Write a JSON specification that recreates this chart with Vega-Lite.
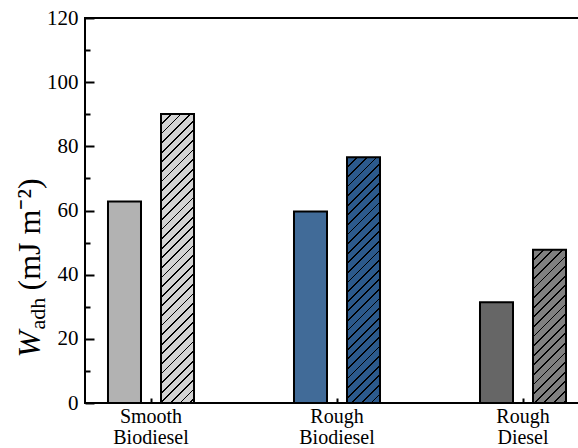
{
  "$schema": "https://vega.github.io/schema/vega-lite/v6.json",
  "width": 504,
  "height": 385,
  "autosize": {"type": "none"},
  "padding": {"left": 85, "top": 18, "right": 0, "bottom": 45},
  "background": "white",
  "config": {
    "view": {"stroke": "black", "strokeWidth": 2},
    "font": "Times New Roman, Times, Liberation Serif, serif",
    "axis": {"labelFont": "Times New Roman, Times, Liberation Serif, serif", "titleFont": "Times New Roman, Times, Liberation Serif, serif"},
    "legend": {"labelFont": "Times New Roman, Times, Liberation Serif, serif"},
    "style": {"guide-label": {"font": "Times New Roman, Times, Liberation Serif, serif"}, "guide-title": {"font": "Times New Roman, Times, Liberation Serif, serif"}}
  },
  "data": {"values": [
    {"group": "Smooth Biodiesel", "method": "Direct Integration", "value": 62.8},
    {"group": "Smooth Biodiesel", "method": "Young-Dupré", "value": 90.1},
    {"group": "Rough Biodiesel", "method": "Direct Integration", "value": 59.7},
    {"group": "Rough Biodiesel", "method": "Young-Dupré", "value": 76.6},
    {"group": "Rough Diesel", "method": "Direct Integration", "value": 31.4},
    {"group": "Rough Diesel", "method": "Young-Dupré", "value": 47.8}
  ]},
  "encoding": {
    "x": {
      "field": "group", "type": "nominal",
      "sort": ["Smooth Biodiesel", "Rough Biodiesel", "Rough Diesel"],
      "scale": {"range": [-27, 531], "paddingInner": 0, "paddingOuter": 0},
      "axis": {"title": null, "domain": false, "labelAngle": 0, "labelExpr": "split(datum.label, ' ')",
        "labelFont": "Times New Roman, Times, Liberation Serif, serif", "labelFontSize": 20, "labelColor": "black", "labelLineHeight": 21.5,
        "offset": -5, "labelPadding": 3, "tickSize": 5, "tickWidth": 2, "tickColor": "black"}
    },
    "xOffset": {"field": "method", "type": "nominal", "sort": ["Direct Integration", "Young-Dupré"],
      "scale": {"domain": ["Direct Integration", "Young-Dupré"], "paddingInner": 0.3774, "paddingOuter": 0.943}}
  },
  "layer": [
    {
      "transform": [{"filter": "datum.method === 'Direct Integration'"}],
      "mark": {"type": "bar", "stroke": "black", "strokeWidth": 2},
      "encoding": {
        "y": {
          "field": "value", "type": "quantitative",
          "scale": {"domain": [0, 120], "nice": false},
          "axis": {"orient": "left", "values": [0, 20, 40, 60, 80, 100, 120], "offset": -9,
            "tickSize": 9, "tickWidth": 2, "tickColor": "black", "domain": false, "grid": false,
            "labelFont": "Times New Roman, Times, Liberation Serif, serif", "labelFontSize": 21, "labelColor": "black", "labelPadding": 7,
            "title": "W", "titleFont": "Times New Roman, Times, Liberation Serif, serif", "titleFontSize": 32, "titleFontStyle": "italic", "titleFontWeight": "normal",
            "titleColor": "black", "titleAngle": -90, "titleAlign": "left", "titleBaseline": "alphabetic", "titleX": -55, "titleY": 339}
        },
        "fill": {
          "field": "group", "type": "nominal",
          "scale": {"domain": ["Smooth Biodiesel", "Rough Biodiesel", "Rough Diesel"], "range": ["#b2b2b2", "#416b98", "#666666"]},
          "legend": null
        },
        "fillOpacity": {
          "field": "method", "type": "nominal",
          "scale": {"domain": ["Direct Integration", "Young-Dupré"], "range": [1, 0.55]},
          "legend": {
            "title": null, "orient": "none", "legendX": 280, "legendY": 11,
            "symbolType": "M-1,-1H5V1H-1Z", "symbolSize": 169,
            "symbolFillColor": "#b2b2b2", "symbolStrokeColor": "black", "symbolStrokeWidth": 2,
            "labelFont": "Times New Roman, Times, Liberation Serif, serif", "labelFontSize": 19, "labelColor": "black", "labelOffset": 42,
            "labelLimit": 300, "padding": 8, "rowPadding": 4,
            "strokeColor": "#333333", "cornerRadius": 4, "fillColor": "white",
            "encode": {
              "symbols": {
                "stroke": {"value": "black"},
                "strokeWidth": {"value": 2}
              }
            }
          }
        }
      }
    },
    {
      "transform": [{"filter": "datum.method === 'Young-Dupré'"}],
      "mark": {"type": "bar", "stroke": "black", "strokeWidth": 2},
      "encoding": {
        "y": {
          "field": "value", "type": "quantitative",
          "axis": {"orient": "left", "values": [10, 30, 50, 70, 90, 110], "labels": false, "offset": -5,
            "tickSize": 5, "tickWidth": 2, "tickColor": "black", "domain": false, "grid": false,
            "title": "adh", "titleFont": "Times New Roman, Times, Liberation Serif, serif", "titleFontSize": 22, "titleFontWeight": "normal",
            "titleColor": "black", "titleAngle": -90, "titleAlign": "left", "titleBaseline": "alphabetic", "titleX": -46, "titleY": 311}
        },
        "fill": {
          "field": "group", "type": "nominal",
          "legend": null,
          "condition": [
            {"test": "datum.group === 'Smooth Biodiesel'", "value": {"gradient": "linear", "x1": 0, "y1": 0, "x2": 0.12724, "y2": 1.11463, "stops": [
              {"offset": 0, "color": "#000"}, {"offset": 0.0055, "color": "#000"}, {"offset": 0.0055, "color": "#d3d3d3"}, {"offset": 0.0294, "color": "#d3d3d3"},
              {"offset": 0.0294, "color": "#000"}, {"offset": 0.0349, "color": "#000"}, {"offset": 0.0349, "color": "#d3d3d3"}, {"offset": 0.0588, "color": "#d3d3d3"},
              {"offset": 0.0588, "color": "#000"}, {"offset": 0.0643, "color": "#000"}, {"offset": 0.0643, "color": "#d3d3d3"}, {"offset": 0.0882, "color": "#d3d3d3"},
              {"offset": 0.0882, "color": "#000"}, {"offset": 0.0937, "color": "#000"}, {"offset": 0.0937, "color": "#d3d3d3"}, {"offset": 0.1176, "color": "#d3d3d3"},
              {"offset": 0.1176, "color": "#000"}, {"offset": 0.1231, "color": "#000"}, {"offset": 0.1231, "color": "#d3d3d3"}, {"offset": 0.1471, "color": "#d3d3d3"},
              {"offset": 0.1471, "color": "#000"}, {"offset": 0.1526, "color": "#000"}, {"offset": 0.1526, "color": "#d3d3d3"}, {"offset": 0.1765, "color": "#d3d3d3"},
              {"offset": 0.1765, "color": "#000"}, {"offset": 0.182, "color": "#000"}, {"offset": 0.182, "color": "#d3d3d3"}, {"offset": 0.2059, "color": "#d3d3d3"},
              {"offset": 0.2059, "color": "#000"}, {"offset": 0.2114, "color": "#000"}, {"offset": 0.2114, "color": "#d3d3d3"}, {"offset": 0.2353, "color": "#d3d3d3"},
              {"offset": 0.2353, "color": "#000"}, {"offset": 0.2408, "color": "#000"}, {"offset": 0.2408, "color": "#d3d3d3"}, {"offset": 0.2647, "color": "#d3d3d3"},
              {"offset": 0.2647, "color": "#000"}, {"offset": 0.2702, "color": "#000"}, {"offset": 0.2702, "color": "#d3d3d3"}, {"offset": 0.2941, "color": "#d3d3d3"},
              {"offset": 0.2941, "color": "#000"}, {"offset": 0.2996, "color": "#000"}, {"offset": 0.2996, "color": "#d3d3d3"}, {"offset": 0.3235, "color": "#d3d3d3"},
              {"offset": 0.3235, "color": "#000"}, {"offset": 0.329, "color": "#000"}, {"offset": 0.329, "color": "#d3d3d3"}, {"offset": 0.3529, "color": "#d3d3d3"},
              {"offset": 0.3529, "color": "#000"}, {"offset": 0.3584, "color": "#000"}, {"offset": 0.3584, "color": "#d3d3d3"}, {"offset": 0.3824, "color": "#d3d3d3"},
              {"offset": 0.3824, "color": "#000"}, {"offset": 0.3879, "color": "#000"}, {"offset": 0.3879, "color": "#d3d3d3"}, {"offset": 0.4118, "color": "#d3d3d3"},
              {"offset": 0.4118, "color": "#000"}, {"offset": 0.4173, "color": "#000"}, {"offset": 0.4173, "color": "#d3d3d3"}, {"offset": 0.4412, "color": "#d3d3d3"},
              {"offset": 0.4412, "color": "#000"}, {"offset": 0.4467, "color": "#000"}, {"offset": 0.4467, "color": "#d3d3d3"}, {"offset": 0.4706, "color": "#d3d3d3"},
              {"offset": 0.4706, "color": "#000"}, {"offset": 0.4761, "color": "#000"}, {"offset": 0.4761, "color": "#d3d3d3"}, {"offset": 0.5, "color": "#d3d3d3"},
              {"offset": 0.5, "color": "#000"}, {"offset": 0.5055, "color": "#000"}, {"offset": 0.5055, "color": "#d3d3d3"}, {"offset": 0.5294, "color": "#d3d3d3"},
              {"offset": 0.5294, "color": "#000"}, {"offset": 0.5349, "color": "#000"}, {"offset": 0.5349, "color": "#d3d3d3"}, {"offset": 0.5588, "color": "#d3d3d3"},
              {"offset": 0.5588, "color": "#000"}, {"offset": 0.5643, "color": "#000"}, {"offset": 0.5643, "color": "#d3d3d3"}, {"offset": 0.5882, "color": "#d3d3d3"},
              {"offset": 0.5882, "color": "#000"}, {"offset": 0.5937, "color": "#000"}, {"offset": 0.5937, "color": "#d3d3d3"}, {"offset": 0.6176, "color": "#d3d3d3"},
              {"offset": 0.6176, "color": "#000"}, {"offset": 0.6231, "color": "#000"}, {"offset": 0.6231, "color": "#d3d3d3"}, {"offset": 0.6471, "color": "#d3d3d3"},
              {"offset": 0.6471, "color": "#000"}, {"offset": 0.6526, "color": "#000"}, {"offset": 0.6526, "color": "#d3d3d3"}, {"offset": 0.6765, "color": "#d3d3d3"},
              {"offset": 0.6765, "color": "#000"}, {"offset": 0.682, "color": "#000"}, {"offset": 0.682, "color": "#d3d3d3"}, {"offset": 0.7059, "color": "#d3d3d3"},
              {"offset": 0.7059, "color": "#000"}, {"offset": 0.7114, "color": "#000"}, {"offset": 0.7114, "color": "#d3d3d3"}, {"offset": 0.7353, "color": "#d3d3d3"},
              {"offset": 0.7353, "color": "#000"}, {"offset": 0.7408, "color": "#000"}, {"offset": 0.7408, "color": "#d3d3d3"}, {"offset": 0.7647, "color": "#d3d3d3"},
              {"offset": 0.7647, "color": "#000"}, {"offset": 0.7702, "color": "#000"}, {"offset": 0.7702, "color": "#d3d3d3"}, {"offset": 0.7941, "color": "#d3d3d3"},
              {"offset": 0.7941, "color": "#000"}, {"offset": 0.7996, "color": "#000"}, {"offset": 0.7996, "color": "#d3d3d3"}, {"offset": 0.8235, "color": "#d3d3d3"},
              {"offset": 0.8235, "color": "#000"}, {"offset": 0.829, "color": "#000"}, {"offset": 0.829, "color": "#d3d3d3"}, {"offset": 0.8529, "color": "#d3d3d3"},
              {"offset": 0.8529, "color": "#000"}, {"offset": 0.8584, "color": "#000"}, {"offset": 0.8584, "color": "#d3d3d3"}, {"offset": 0.8824, "color": "#d3d3d3"},
              {"offset": 0.8824, "color": "#000"}, {"offset": 0.8879, "color": "#000"}, {"offset": 0.8879, "color": "#d3d3d3"}, {"offset": 0.9118, "color": "#d3d3d3"},
              {"offset": 0.9118, "color": "#000"}, {"offset": 0.9173, "color": "#000"}, {"offset": 0.9173, "color": "#d3d3d3"}, {"offset": 0.9412, "color": "#d3d3d3"},
              {"offset": 0.9412, "color": "#000"}, {"offset": 0.9467, "color": "#000"}, {"offset": 0.9467, "color": "#d3d3d3"}, {"offset": 0.9706, "color": "#d3d3d3"},
              {"offset": 0.9706, "color": "#000"}, {"offset": 0.9761, "color": "#000"}, {"offset": 0.9761, "color": "#d3d3d3"}
            ]}},
            {"test": "datum.group === 'Rough Biodiesel'", "value": {"gradient": "linear", "x1": 0, "y1": 0, "x2": 0.17518, "y2": 1.30462, "stops": [
              {"offset": 0, "color": "#000"}, {"offset": 0.0055, "color": "#000"}, {"offset": 0.0055, "color": "#2c5a8c"}, {"offset": 0.0294, "color": "#2c5a8c"},
              {"offset": 0.0294, "color": "#000"}, {"offset": 0.0349, "color": "#000"}, {"offset": 0.0349, "color": "#2c5a8c"}, {"offset": 0.0588, "color": "#2c5a8c"},
              {"offset": 0.0588, "color": "#000"}, {"offset": 0.0643, "color": "#000"}, {"offset": 0.0643, "color": "#2c5a8c"}, {"offset": 0.0882, "color": "#2c5a8c"},
              {"offset": 0.0882, "color": "#000"}, {"offset": 0.0937, "color": "#000"}, {"offset": 0.0937, "color": "#2c5a8c"}, {"offset": 0.1176, "color": "#2c5a8c"},
              {"offset": 0.1176, "color": "#000"}, {"offset": 0.1231, "color": "#000"}, {"offset": 0.1231, "color": "#2c5a8c"}, {"offset": 0.1471, "color": "#2c5a8c"},
              {"offset": 0.1471, "color": "#000"}, {"offset": 0.1526, "color": "#000"}, {"offset": 0.1526, "color": "#2c5a8c"}, {"offset": 0.1765, "color": "#2c5a8c"},
              {"offset": 0.1765, "color": "#000"}, {"offset": 0.182, "color": "#000"}, {"offset": 0.182, "color": "#2c5a8c"}, {"offset": 0.2059, "color": "#2c5a8c"},
              {"offset": 0.2059, "color": "#000"}, {"offset": 0.2114, "color": "#000"}, {"offset": 0.2114, "color": "#2c5a8c"}, {"offset": 0.2353, "color": "#2c5a8c"},
              {"offset": 0.2353, "color": "#000"}, {"offset": 0.2408, "color": "#000"}, {"offset": 0.2408, "color": "#2c5a8c"}, {"offset": 0.2647, "color": "#2c5a8c"},
              {"offset": 0.2647, "color": "#000"}, {"offset": 0.2702, "color": "#000"}, {"offset": 0.2702, "color": "#2c5a8c"}, {"offset": 0.2941, "color": "#2c5a8c"},
              {"offset": 0.2941, "color": "#000"}, {"offset": 0.2996, "color": "#000"}, {"offset": 0.2996, "color": "#2c5a8c"}, {"offset": 0.3235, "color": "#2c5a8c"},
              {"offset": 0.3235, "color": "#000"}, {"offset": 0.329, "color": "#000"}, {"offset": 0.329, "color": "#2c5a8c"}, {"offset": 0.3529, "color": "#2c5a8c"},
              {"offset": 0.3529, "color": "#000"}, {"offset": 0.3584, "color": "#000"}, {"offset": 0.3584, "color": "#2c5a8c"}, {"offset": 0.3824, "color": "#2c5a8c"},
              {"offset": 0.3824, "color": "#000"}, {"offset": 0.3879, "color": "#000"}, {"offset": 0.3879, "color": "#2c5a8c"}, {"offset": 0.4118, "color": "#2c5a8c"},
              {"offset": 0.4118, "color": "#000"}, {"offset": 0.4173, "color": "#000"}, {"offset": 0.4173, "color": "#2c5a8c"}, {"offset": 0.4412, "color": "#2c5a8c"},
              {"offset": 0.4412, "color": "#000"}, {"offset": 0.4467, "color": "#000"}, {"offset": 0.4467, "color": "#2c5a8c"}, {"offset": 0.4706, "color": "#2c5a8c"},
              {"offset": 0.4706, "color": "#000"}, {"offset": 0.4761, "color": "#000"}, {"offset": 0.4761, "color": "#2c5a8c"}, {"offset": 0.5, "color": "#2c5a8c"},
              {"offset": 0.5, "color": "#000"}, {"offset": 0.5055, "color": "#000"}, {"offset": 0.5055, "color": "#2c5a8c"}, {"offset": 0.5294, "color": "#2c5a8c"},
              {"offset": 0.5294, "color": "#000"}, {"offset": 0.5349, "color": "#000"}, {"offset": 0.5349, "color": "#2c5a8c"}, {"offset": 0.5588, "color": "#2c5a8c"},
              {"offset": 0.5588, "color": "#000"}, {"offset": 0.5643, "color": "#000"}, {"offset": 0.5643, "color": "#2c5a8c"}, {"offset": 0.5882, "color": "#2c5a8c"},
              {"offset": 0.5882, "color": "#000"}, {"offset": 0.5937, "color": "#000"}, {"offset": 0.5937, "color": "#2c5a8c"}, {"offset": 0.6176, "color": "#2c5a8c"},
              {"offset": 0.6176, "color": "#000"}, {"offset": 0.6231, "color": "#000"}, {"offset": 0.6231, "color": "#2c5a8c"}, {"offset": 0.6471, "color": "#2c5a8c"},
              {"offset": 0.6471, "color": "#000"}, {"offset": 0.6526, "color": "#000"}, {"offset": 0.6526, "color": "#2c5a8c"}, {"offset": 0.6765, "color": "#2c5a8c"},
              {"offset": 0.6765, "color": "#000"}, {"offset": 0.682, "color": "#000"}, {"offset": 0.682, "color": "#2c5a8c"}, {"offset": 0.7059, "color": "#2c5a8c"},
              {"offset": 0.7059, "color": "#000"}, {"offset": 0.7114, "color": "#000"}, {"offset": 0.7114, "color": "#2c5a8c"}, {"offset": 0.7353, "color": "#2c5a8c"},
              {"offset": 0.7353, "color": "#000"}, {"offset": 0.7408, "color": "#000"}, {"offset": 0.7408, "color": "#2c5a8c"}, {"offset": 0.7647, "color": "#2c5a8c"},
              {"offset": 0.7647, "color": "#000"}, {"offset": 0.7702, "color": "#000"}, {"offset": 0.7702, "color": "#2c5a8c"}, {"offset": 0.7941, "color": "#2c5a8c"},
              {"offset": 0.7941, "color": "#000"}, {"offset": 0.7996, "color": "#000"}, {"offset": 0.7996, "color": "#2c5a8c"}, {"offset": 0.8235, "color": "#2c5a8c"},
              {"offset": 0.8235, "color": "#000"}, {"offset": 0.829, "color": "#000"}, {"offset": 0.829, "color": "#2c5a8c"}, {"offset": 0.8529, "color": "#2c5a8c"},
              {"offset": 0.8529, "color": "#000"}, {"offset": 0.8584, "color": "#000"}, {"offset": 0.8584, "color": "#2c5a8c"}
            ]}},
            {"test": "datum.group === 'Rough Diesel'", "value": {"gradient": "linear", "x1": 0, "y1": 0, "x2": 0.43771, "y2": 2.03417, "stops": [
              {"offset": 0, "color": "#000"}, {"offset": 0.0055, "color": "#000"}, {"offset": 0.0055, "color": "#808080"}, {"offset": 0.0294, "color": "#808080"},
              {"offset": 0.0294, "color": "#000"}, {"offset": 0.0349, "color": "#000"}, {"offset": 0.0349, "color": "#808080"}, {"offset": 0.0588, "color": "#808080"},
              {"offset": 0.0588, "color": "#000"}, {"offset": 0.0643, "color": "#000"}, {"offset": 0.0643, "color": "#808080"}, {"offset": 0.0882, "color": "#808080"},
              {"offset": 0.0882, "color": "#000"}, {"offset": 0.0937, "color": "#000"}, {"offset": 0.0937, "color": "#808080"}, {"offset": 0.1176, "color": "#808080"},
              {"offset": 0.1176, "color": "#000"}, {"offset": 0.1231, "color": "#000"}, {"offset": 0.1231, "color": "#808080"}, {"offset": 0.1471, "color": "#808080"},
              {"offset": 0.1471, "color": "#000"}, {"offset": 0.1526, "color": "#000"}, {"offset": 0.1526, "color": "#808080"}, {"offset": 0.1765, "color": "#808080"},
              {"offset": 0.1765, "color": "#000"}, {"offset": 0.182, "color": "#000"}, {"offset": 0.182, "color": "#808080"}, {"offset": 0.2059, "color": "#808080"},
              {"offset": 0.2059, "color": "#000"}, {"offset": 0.2114, "color": "#000"}, {"offset": 0.2114, "color": "#808080"}, {"offset": 0.2353, "color": "#808080"},
              {"offset": 0.2353, "color": "#000"}, {"offset": 0.2408, "color": "#000"}, {"offset": 0.2408, "color": "#808080"}, {"offset": 0.2647, "color": "#808080"},
              {"offset": 0.2647, "color": "#000"}, {"offset": 0.2702, "color": "#000"}, {"offset": 0.2702, "color": "#808080"}, {"offset": 0.2941, "color": "#808080"},
              {"offset": 0.2941, "color": "#000"}, {"offset": 0.2996, "color": "#000"}, {"offset": 0.2996, "color": "#808080"}, {"offset": 0.3235, "color": "#808080"},
              {"offset": 0.3235, "color": "#000"}, {"offset": 0.329, "color": "#000"}, {"offset": 0.329, "color": "#808080"}, {"offset": 0.3529, "color": "#808080"},
              {"offset": 0.3529, "color": "#000"}, {"offset": 0.3584, "color": "#000"}, {"offset": 0.3584, "color": "#808080"}, {"offset": 0.3824, "color": "#808080"},
              {"offset": 0.3824, "color": "#000"}, {"offset": 0.3879, "color": "#000"}, {"offset": 0.3879, "color": "#808080"}, {"offset": 0.4118, "color": "#808080"},
              {"offset": 0.4118, "color": "#000"}, {"offset": 0.4173, "color": "#000"}, {"offset": 0.4173, "color": "#808080"}, {"offset": 0.4412, "color": "#808080"},
              {"offset": 0.4412, "color": "#000"}, {"offset": 0.4467, "color": "#000"}, {"offset": 0.4467, "color": "#808080"}, {"offset": 0.4706, "color": "#808080"},
              {"offset": 0.4706, "color": "#000"}, {"offset": 0.4761, "color": "#000"}, {"offset": 0.4761, "color": "#808080"}, {"offset": 0.5, "color": "#808080"},
              {"offset": 0.5, "color": "#000"}, {"offset": 0.5055, "color": "#000"}, {"offset": 0.5055, "color": "#808080"}, {"offset": 0.5294, "color": "#808080"},
              {"offset": 0.5294, "color": "#000"}, {"offset": 0.5349, "color": "#000"}, {"offset": 0.5349, "color": "#808080"}, {"offset": 0.5588, "color": "#808080"},
              {"offset": 0.5588, "color": "#000"}, {"offset": 0.5643, "color": "#000"}, {"offset": 0.5643, "color": "#808080"}
            ]}}
          ]
        }
      }
    },
    {
      "mark": {"type": "text", "text": " ", "opacity": 0},
      "encoding": {
        "y": {
          "field": "value", "type": "quantitative",
          "axis": {"orient": "left", "labels": false, "ticks": false, "domain": false, "grid": false,
            "title": "(mJ m⁻²)", "titleFont": "Times New Roman, Times, Liberation Serif, serif", "titleFontSize": 32, "titleFontWeight": "normal",
            "titleColor": "black", "titleAngle": -90, "titleAlign": "left", "titleBaseline": "alphabetic", "titleX": -46, "titleY": 272}
        }
      }
    }
  ],
  "resolve": {"axis": {"y": "independent"}}
}
